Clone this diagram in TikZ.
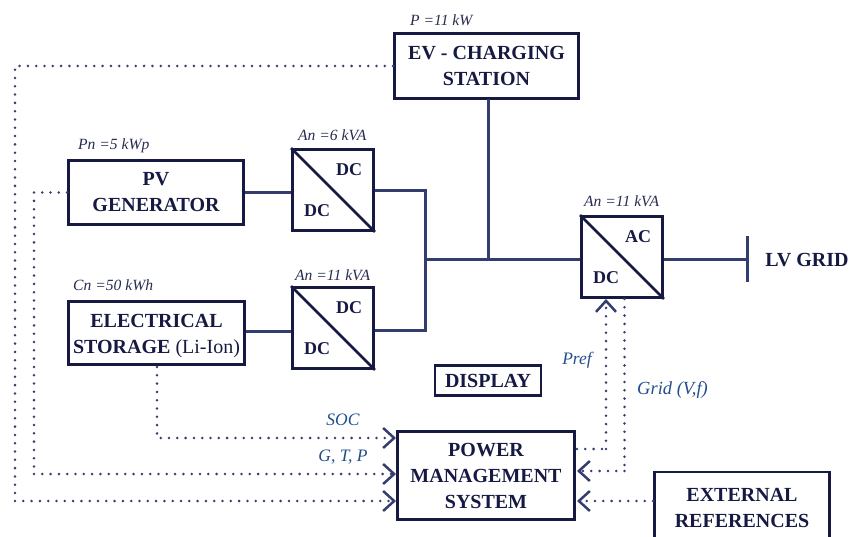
\documentclass[tikz,border=0pt]{standalone}
\usepackage{fontspec}
\setmainfont{Liberation Serif}
\usetikzlibrary{arrows.meta, calc}
\definecolor{boxnavy}{RGB}{22, 26, 66}
\definecolor{linenavy}{RGB}{52, 62, 110}
\definecolor{labelblue}{RGB}{34, 78, 140}
\definecolor{ratinggray}{RGB}{40, 44, 80}
\tikzset{
  block/.style={draw=boxnavy, line width=2.8pt, fill=white, align=center, text=boxnavy, inner sep=0pt,
    font=\fontsize{20}{26}\selectfont\bfseries},
  lowered/.style={execute at begin node={\rule{0pt}{#1}}},
  converter/.style={draw=boxnavy, line width=2.8pt, fill=white, minimum width=81pt, minimum height=81pt, inner sep=0pt},
  convtext/.style={text=boxnavy, font=\fontsize{18}{22}\selectfont\bfseries, inner sep=0pt},
  rating/.style={text=ratinggray, font=\fontsize{15.6}{18}\selectfont\itshape, inner sep=0pt},
  signal/.style={text=labelblue, font=\fontsize{17.5}{20}\selectfont\itshape, inner sep=0pt},
  power/.style={draw=linenavy, line width=3pt},
  dotline/.style={draw=linenavy, line width=2.8pt, line cap=round, dash pattern=on 0pt off 8.3pt},
  dotarrow/.style={dotline, -{Straight Barb[length=11pt, width=20pt, line width=2.5pt]}}
}
\begin{document}
\begin{tikzpicture}[x=1pt, y=-1pt]
  \useasboundingbox (0,0) rectangle (859,537);
  \clip (0,0) rectangle (859,537);

  % boxes
  \node[block, lowered=17pt, minimum width=184pt, minimum height=65pt] (ev) at (486.5,66) {EV - CHARGING\\STATION};
  \node[block, lowered=17pt, minimum width=175pt, minimum height=64pt] (pv) at (156,192.5) {PV\\GENERATOR};
  \node[block, minimum width=176pt, minimum height=63pt] (storage) at (156.5,333) {};
  \node[block, draw=none, fill=none] (storaget) at (156.5,336) {ELECTRICAL\\STORAGE {\mdseries (Li-Ion)}};
  \node[block, minimum width=106pt, minimum height=30pt] (display) at (488,380.5) {DISPLAY};
  \node[block, minimum width=177pt, minimum height=88pt] (pms) at (486,475.5) {POWER\\MANAGEMENT\\SYSTEM};
  \node[block, minimum width=175pt, minimum height=71pt] (ext) at (742,507.5) {EXTERNAL\\REFERENCES};

  % converters
  \node[converter] (conva) at (333,190) {};
  \node[converter] (convb) at (333,328) {};
  \node[converter] (convc) at (622,257) {};
  \foreach \c in {conva, convb, convc}
    \draw[draw=boxnavy, line width=2.6pt] (\c.north west) -- (\c.south east);
  \node[convtext] (convat) at (349,170) {DC};
  \node[convtext] (convab) at (317,211) {DC};
  \node[convtext] (convbt) at (349,308) {DC};
  \node[convtext] (convbb) at (317,349) {DC};
  \node[convtext] (convct) at (638,237) {AC};
  \node[convtext] (convcb) at (606,278) {DC};

  % ratings
  \node[rating, anchor=west] (evp) at (410,20) {P =11 kW};
  \node[rating, anchor=west] (pvp) at (78,146) {Pn =5 kWp};
  \node[rating, anchor=west] (conval) at (298,135) {An =6 kVA};
  \node[rating, anchor=west] (convbl) at (295,275) {An =11 kVA};
  \node[rating, anchor=west] (storagel) at (73,285) {Cn =50 kWh};
  \node[rating, anchor=west] (convcl) at (584,201) {An =11 kVA};

  % power lines
  \coordinate (busl) at (425,260);
  \coordinate (gridbar) at (747,260);
  \draw[power] (pv.east) -- (pv.east -| conva.west);
  \draw[power] ($(storage.east)+(0,-2)$) -- ($(convb.west)+(0,3)$);
  \draw[power] ($(conva.east)+(0,1)$) -| (busl) |- ($(convb.east)+(0,2)$);
  \draw[power] (busl) -- (busl -| convc.west);
  \draw[power] (488,99) -- (488,260);
  \draw[power] (gridbar -| convc.east) -- (gridbar);
  \draw[power] ($(gridbar)+(0,-24)$) -- ($(gridbar)+(0,22)$);
  \node[block, draw=none, fill=none, anchor=west] (grid) at (764,260) {LV GRID};

  % signal lines
  \coordinate (pmsa) at (396,438);
  \coordinate (pmsb) at (396,474);
  \coordinate (pmsc) at (396,501);
  \coordinate (pmsd) at (577,449);
  \coordinate (pmse) at (577,471);
  \coordinate (pmsf) at (577,501);
  \draw[dotarrow] (157,367) |- (pmsa);
  \draw[dotline] (pv.west) -- (34,192.5) -- (34,474);
  \draw[dotarrow] (34,474) -- (pmsb);
  \draw[dotline] (ev.west) -- (15,66) -- (15,501);
  \draw[dotarrow] (15,501) -- (pmsc);
  \draw[dotline] (pmsd) -- (606,449);
  \draw[dotarrow] (606,449) -- (606,299);
  \draw[dotline] (624.5,299) -- (624.5,471);
  \draw[dotarrow] (624.5,471) -- (pmse);
  \draw[dotarrow] (ext.west |- pmsf) -- (pmsf);

  % signal labels
  \node[signal] (soc) at (343,420) {SOC};
  \node[signal] (gtp) at (343,457) {G, T, P};
  \node[signal] (pref) at (577,360) {Pref};
  \node[signal, anchor=west, font=\fontsize{18.5}{20}\selectfont\itshape] (gridvf) at (637,390) {Grid (V,f)};
\end{tikzpicture}
\end{document}
